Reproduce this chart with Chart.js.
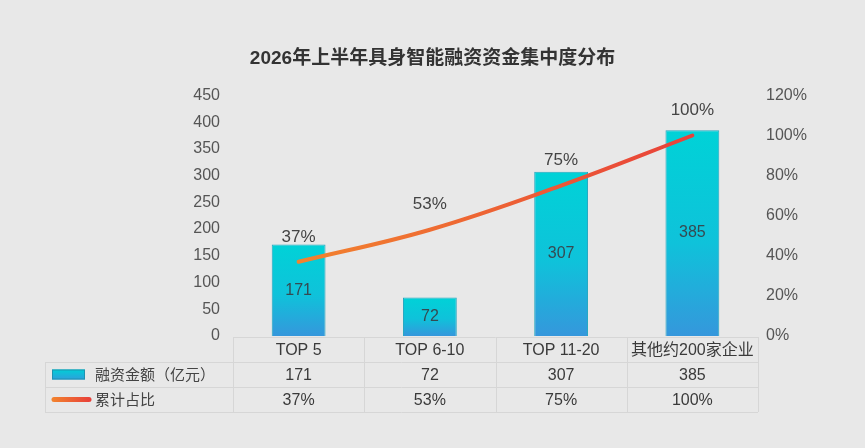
<!DOCTYPE html>
<html>
<head>
<meta charset="utf-8">
<script src="https://cdn.jsdelivr.net/npm/chart.js@4/dist/chart.umd.min.js"></script>
<style>
html,body{margin:0;padding:0;background:#e8e8e8;}
#wrap{width:865px;height:448px;position:relative;}
</style>
</head>
<body>
<div id="wrap"><canvas id="c" width="865" height="448"></canvas></div>
<script>
const titleText = '2026年上半年具身智能融资资金集中度分布';
const categories = ['TOP 5', 'TOP 6-10', 'TOP 11-20', '其他约200家企业'];
const amounts = [171, 72, 307, 385];
const cumulativePct = [37, 53, 75, 100];
const amountLabel = '融资金额（亿元）';
const pctLabel = '累计占比';

const FONT = '"Liberation Sans", Arial, "Noto Sans CJK SC", sans-serif';
const TEXT = '#444';

function lineGrad(ctx, x0, x1) {
  const g = ctx.createLinearGradient(x0, 0, x1, 0);
  g.addColorStop(0, '#f2832e');
  g.addColorStop(1, '#e8413a');
  return g;
}

const bgPlugin = {
  id: 'bg',
  beforeDraw(chart) {
    const ctx = chart.ctx;
    ctx.save();
    ctx.fillStyle = '#e8e8e8';
    ctx.fillRect(0, 0, chart.width, chart.height);
    ctx.restore();
  }
};

const labelPlugin = {
  id: 'labels',
  afterDatasetsDraw(chart) {
    const ctx = chart.ctx;
    ctx.save();
    ctx.textAlign = 'center';
    ctx.textBaseline = 'middle';
    ctx.font = '16px ' + FONT;
    ctx.fillStyle = '#354a52';
    chart.getDatasetMeta(0).data.forEach((bar, i) => {
      ctx.fillText(String(amounts[i]), bar.x, (bar.y + bar.base) / 2);
    });
    ctx.font = '17px ' + FONT;
    ctx.fillStyle = TEXT;
    chart.getDatasetMeta(1).data.forEach((pt, i) => {
      ctx.fillText(cumulativePct[i] + '%', pt.x, pt.y - 25);
    });
    ctx.restore();
  }
};

const tablePlugin = {
  id: 'table',
  afterDraw(chart) {
    const ctx = chart.ctx;
    const xs = chart.scales.x;
    const area = chart.chartArea;
    const n = categories.length;
    const w = (area.right - area.left) / n;
    const bounds = [];
    for (let i = 0; i <= n; i++) bounds.push(area.left + i * w);
    const top = area.bottom + 1, r1 = top + 25, r2 = r1 + 25, r3 = r2 + 25;
    const leftX = 45;
    ctx.save();
    ctx.strokeStyle = '#d6d6d6';
    ctx.lineWidth = 1;
    ctx.beginPath();
    const px = v => Math.round(v) + 0.5;
    ctx.moveTo(area.left, px(top)); ctx.lineTo(area.right, px(top));
    [r1, r2, r3].forEach(y => { ctx.moveTo(leftX, px(y)); ctx.lineTo(area.right, px(y)); });
    ctx.moveTo(px(leftX), r1); ctx.lineTo(px(leftX), r3);
    bounds.forEach(x => { ctx.moveTo(px(x), top); ctx.lineTo(px(x), r3); });
    ctx.stroke();

    ctx.textAlign = 'center';
    ctx.textBaseline = 'middle';
    ctx.fillStyle = '#3a3a3a';
    ctx.font = '16px ' + FONT;
    categories.forEach((c, i) => {
      const cx = xs.getPixelForValue(i);
      ctx.fillText(c, cx, (top + r1) / 2 + 1);
      ctx.fillText(String(amounts[i]), cx, (r1 + r2) / 2 + 1);
      ctx.fillText(cumulativePct[i] + '%', cx, (r2 + r3) / 2 + 1);
    });

    const sy = (r1 + r2) / 2;
    const g = ctx.createLinearGradient(0, sy - 5, 0, sy + 5);
    g.addColorStop(0, '#00cfd6');
    g.addColorStop(1, '#2f9fdc');
    ctx.fillStyle = g;
    ctx.fillRect(52, sy - 5, 33, 10);
    ctx.strokeStyle = '#1f93b0';
    ctx.lineWidth = 1;
    ctx.strokeRect(52.5, sy - 4.5, 32, 9);
    const ly = (r2 + r3) / 2;
    ctx.strokeStyle = lineGrad(ctx, 52, 90);
    ctx.lineWidth = 5;
    ctx.lineCap = 'round';
    ctx.beginPath();
    ctx.moveTo(54, ly); ctx.lineTo(89, ly);
    ctx.stroke();
    ctx.textAlign = 'left';
    ctx.fillStyle = TEXT;
    ctx.font = '15px ' + FONT;
    ctx.fillText(amountLabel, 95, sy + 1);
    ctx.fillText(pctLabel, 95, ly + 1);
    ctx.restore();
  }
};

new Chart(document.getElementById('c'), {
  data: {
    labels: categories,
    datasets: [
      {
        type: 'bar',
        label: amountLabel,
        data: amounts,
        yAxisID: 'y',
        order: 2,
        barPercentage: 0.41,
        categoryPercentage: 1,
        borderWidth: 1,
        borderColor: '#22a6bf',
        backgroundColor(ctx) {
          const chart = ctx.chart;
          if (!chart.chartArea || ctx.raw === undefined) return '#10c4d8';
          const ys = chart.scales.y;
          const yt = ys.getPixelForValue(ctx.raw);
          const yb = ys.getPixelForValue(0);
          if (!isFinite(yt) || !isFinite(yb) || yt === yb) return '#10c4d8';
          const g = chart.ctx.createLinearGradient(0, yt, 0, yb);
          g.addColorStop(0, '#00d2d7');
          g.addColorStop(0.55, '#0fc2da');
          g.addColorStop(1, '#3597dc');
          return g;
        }
      },
      {
        type: 'line',
        label: pctLabel,
        data: cumulativePct,
        yAxisID: 'y1',
        order: 1,
        tension: 0.4,
        borderWidth: 4,
        pointRadius: 0,
        pointHoverRadius: 0,
        fill: false,
        borderCapStyle: 'round',
        borderColor(ctx) {
          const chart = ctx.chart;
          if (!chart.chartArea) return '#ee6a32';
          const xs = chart.scales.x;
          return lineGrad(chart.ctx, xs.getPixelForValue(0), xs.getPixelForValue(categories.length - 1));
        }
      }
    ]
  },
  options: {
    responsive: false,
    animation: false,
    devicePixelRatio: 1,
    layout: { padding: { left: 0, right: 0, top: 0, bottom: 112 } },
    plugins: {
      legend: { display: false },
      tooltip: { enabled: false },
      title: {
        display: true,
        text: titleText,
        color: '#333',
        font: { family: FONT, size: 19, weight: 'bold', lineHeight: 1.2 },
        padding: { top: 47, bottom: 25.6 }
      }
    },
    scales: {
      x: {
        display: false,
        offset: true,
        grid: { display: false }
      },
      y: {
        position: 'left',
        min: 0,
        max: 450,
        ticks: { stepSize: 50, color: '#555', font: { family: FONT, size: 16 }, padding: 13 },
        grid: { display: false, drawTicks: false },
        border: { display: false },
        afterFit(s) { s.width = 233; }
      },
      y1: {
        position: 'right',
        min: 0,
        max: 120,
        ticks: { stepSize: 20, color: '#555', font: { family: FONT, size: 16 }, padding: 8, callback: v => v + '%' },
        grid: { display: false, drawTicks: false },
        border: { display: false },
        afterFit(s) { s.width = 107; }
      }
    }
  },
  plugins: [bgPlugin, labelPlugin, tablePlugin]
});
</script>
</body>
</html>
